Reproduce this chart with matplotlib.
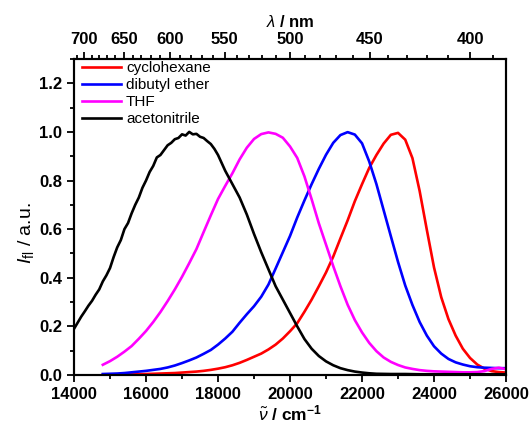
import matplotlib
matplotlib.use('Agg')
import matplotlib.pyplot as plt
from matplotlib.ticker import MultipleLocator, FormatStrFormatter

plt.rcParams['font.family'] = ['Liberation Sans', 'DejaVu Sans']
plt.rcParams['mathtext.fontset'] = 'custom'
plt.rcParams['mathtext.rm'] = 'Liberation Sans'
plt.rcParams['mathtext.it'] = 'Liberation Sans:italic'
plt.rcParams['mathtext.bf'] = 'Liberation Sans:bold'

# wavenumber grid (cm-1) for the three smooth spectra
nu = [14800, 15000, 15200, 15400, 15600, 15800, 16000, 16200, 16400, 16600,
      16800, 17000, 17200, 17400, 17600, 17800, 18000, 18200, 18400, 18600,
      18800, 19000, 19200, 19400, 19600, 19800, 20000, 20200, 20400, 20600,
      20800, 21000, 21200, 21400, 21600, 21800, 22000, 22200, 22400, 22600,
      22800, 23000, 23200, 23400, 23600, 23800, 24000, 24200, 24400, 24600,
      24800, 25000, 25200, 25400, 25600, 25800, 26000]

cyclohexane = [0.001, 0.001, 0.002, 0.002, 0.003, 0.004, 0.004, 0.005, 0.006, 0.007,
               0.008, 0.010, 0.012, 0.014, 0.017, 0.021, 0.026, 0.032, 0.040, 0.050,
               0.062, 0.075, 0.088, 0.105, 0.125, 0.150, 0.180, 0.213, 0.260, 0.310,
               0.365, 0.422, 0.487, 0.562, 0.636, 0.715, 0.785, 0.852, 0.905, 0.952,
               0.988, 0.996, 0.968, 0.892, 0.757, 0.597, 0.442, 0.320, 0.230, 0.162,
               0.108, 0.070, 0.043, 0.026, 0.016, 0.012, 0.010]

dibutyl_ether = [0.004, 0.005, 0.006, 0.008, 0.011, 0.014, 0.017, 0.021, 0.025, 0.031,
                 0.039, 0.049, 0.060, 0.072, 0.087, 0.103, 0.125, 0.150, 0.178, 0.215,
                 0.250, 0.283, 0.322, 0.372, 0.438, 0.505, 0.572, 0.648, 0.718, 0.785,
                 0.848, 0.906, 0.955, 0.987, 0.999, 0.989, 0.953, 0.878, 0.785, 0.678,
                 0.571, 0.465, 0.368, 0.288, 0.218, 0.162, 0.118, 0.088, 0.066, 0.052,
                 0.043, 0.036, 0.032, 0.030, 0.029, 0.028, 0.028]

thf = [0.042, 0.057, 0.075, 0.096, 0.119, 0.149, 0.181, 0.218, 0.259, 0.304,
       0.352, 0.404, 0.460, 0.518, 0.588, 0.657, 0.724, 0.778, 0.830, 0.887,
       0.935, 0.971, 0.991, 0.998, 0.992, 0.976, 0.940, 0.893, 0.817, 0.723,
       0.624, 0.536, 0.448, 0.365, 0.289, 0.226, 0.175, 0.132, 0.098, 0.072,
       0.054, 0.041, 0.031, 0.025, 0.020, 0.017, 0.015, 0.014, 0.013, 0.012,
       0.011, 0.011, 0.012, 0.016, 0.025, 0.030, 0.024]

# acetonitrile is noisier and starts at the left edge
nu_acn = [14000, 14100, 14200, 14300, 14400, 14500, 14600, 14700, 14800, 14900,
          15000, 15100, 15200, 15300, 15400, 15500, 15600, 15700, 15800, 15900,
          16000, 16100, 16200, 16300, 16400, 16500, 16600, 16700, 16800, 16900,
          17000, 17100, 17200, 17300, 17400, 17500, 17600, 17700, 17800, 17900,
          18000, 18200, 18400, 18600, 18800, 19000, 19200, 19400, 19600, 19800,
          20000, 20200, 20400, 20600, 20800, 21000, 21200, 21400, 21600, 21800,
          22000, 22200, 22400, 22800, 23200, 23600, 24000, 24500, 25000, 25500,
          26000]

acetonitrile = [0.190, 0.215, 0.240, 0.262, 0.285, 0.305, 0.330, 0.352, 0.385, 0.410,
                0.440, 0.485, 0.525, 0.555, 0.600, 0.625, 0.665, 0.700, 0.730, 0.770,
                0.800, 0.835, 0.860, 0.895, 0.905, 0.925, 0.945, 0.955, 0.970, 0.975,
                0.990, 0.985, 1.000, 0.990, 0.992, 0.980, 0.975, 0.962, 0.950, 0.930,
                0.905, 0.840, 0.785, 0.730, 0.660, 0.580, 0.505, 0.435, 0.365, 0.310,
                0.255, 0.200, 0.148, 0.108, 0.078, 0.056, 0.040, 0.028, 0.020, 0.014,
                0.010, 0.007, 0.005, 0.004, 0.004, 0.003, 0.003, 0.003, 0.003, 0.003,
                0.003]

wl_major = [700, 650, 600, 550, 500, 450, 400]
wl_minor = list(range(390, 711, 10))

fig = plt.figure(figsize=(5.31, 4.24), dpi=100)
ax = fig.add_axes([0.1394, 0.1156, 0.8136, 0.7453])

ax.plot(nu, cyclohexane, color='#ff0000', lw=1.9, label='cyclohexane')
ax.plot(nu, dibutyl_ether, color='#0000ff', lw=1.9, label='dibutyl ether')
ax.plot(nu, thf, color='#ff00ff', lw=1.9, label='THF')
ax.plot(nu_acn, acetonitrile, color='black', lw=1.9, label='acetonitrile')

ax.set_xlim(14000, 26000)
ax.set_ylim(0, 1.3)
ax.xaxis.set_major_locator(MultipleLocator(2000))
ax.xaxis.set_minor_locator(MultipleLocator(1000))
ax.yaxis.set_major_locator(MultipleLocator(0.2))
ax.yaxis.set_minor_locator(MultipleLocator(0.1))
ax.yaxis.set_major_formatter(FormatStrFormatter('%.1f'))
ax.tick_params(which='both', direction='out', width=1.3, labelsize=12)
ax.tick_params(which='major', length=5)
ax.tick_params(which='minor', length=3)
for lab in ax.get_xticklabels() + ax.get_yticklabels():
    lab.set_fontweight('bold')
for s in ax.spines.values():
    s.set_linewidth(1.5)

ax.set_xlabel(r'$\tilde{\nu}$ / cm$^{\mathbf{-1}}$', fontsize=12.5, fontweight='bold', labelpad=1)
ax.set_ylabel(r'$I_{\rm fl}$ / a.u.', fontsize=14)
ax.yaxis.set_label_coords(-0.088, 0.45)

# top wavelength axis
ax2 = ax.twiny()
ax2.set_xlim(ax.get_xlim())
ax2.set_xticks([1e7 / w for w in wl_major])
ax2.set_xticklabels([str(w) for w in wl_major], fontweight='bold')
ax2.set_xticks([1e7 / w for w in wl_minor if 1e7 / w <= 26000], minor=True)
ax2.tick_params(which='both', direction='out', width=1.3, labelsize=12)
ax2.tick_params(which='major', length=5)
ax2.tick_params(which='minor', length=3)
ax2.set_xlabel(r'$\lambda$ / nm', fontsize=12, fontweight='bold', labelpad=4)
for s in ax2.spines.values():
    s.set_linewidth(1.5)

ax.legend(loc='upper left', frameon=False, fontsize=11, handlelength=2.6,
          handletextpad=0.3, labelspacing=0.2, borderaxespad=0.1,
          bbox_to_anchor=(0.0, 1.018))

fig.savefig('out.png', dpi=100)
